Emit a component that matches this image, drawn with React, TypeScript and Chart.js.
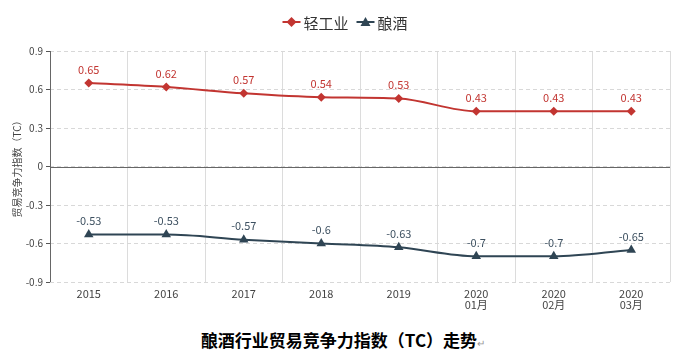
import React, { useEffect, useRef } from "react";
import { Chart, registerables } from "chart.js";

Chart.register(...registerables);

const categories: (string | string[])[] = ["2015", "2016", "2017", "2018", "2019", ["2020", "01月"], ["2020", "02月"], ["2020", "03月"]];
const lightIndustry = [0.65, 0.62, 0.57, 0.54, 0.53, 0.43, 0.43, 0.43];
const brewing = [-0.53, -0.53, -0.57, -0.6, -0.63, -0.7, -0.7, -0.65];
const seriesNames = ["轻工业", "酿酒"];
const seriesColors = ["#c23531", "#2f4554"];
const labelColors = ["#c23531", "#3d5060"];
const yTitle = "贸易竞争力指数（TC）";
const caption = "酿酒行业贸易竞争力指数（TC）走势";

const FONT = "'Noto Sans CJK SC', 'Noto Sans', sans-serif";

const valueLabels = {
  id: "valueLabels",
  afterDatasetsDraw(chart: any) {
    const ctx = chart.ctx;
    ctx.save();
    ctx.font = `11px ${FONT}`;
    ctx.textAlign = "center";
    ctx.textBaseline = "bottom";
    chart.data.datasets.forEach((ds: any, i: number) => {
      const meta = chart.getDatasetMeta(i);
      ctx.fillStyle = labelColors[i];
      meta.data.forEach((pt: any, j: number) => {
        ctx.fillText(String(ds.data[j]), pt.x, pt.y - 8);
      });
    });
    ctx.restore();
  },
};

const zeroLine = {
  id: "zeroLine",
  beforeDatasetsDraw(chart: any) {
    const y = chart.scales.y.getPixelForValue(0);
    const { left, right } = chart.chartArea;
    const ctx = chart.ctx;
    ctx.save();
    ctx.strokeStyle = "#666";
    ctx.lineWidth = 1;
    ctx.beginPath();
    ctx.moveTo(left, Math.round(y) + 0.5);
    ctx.lineTo(right, Math.round(y) + 0.5);
    ctx.stroke();
    ctx.beginPath();
    ctx.moveTo(Math.round(left) + 0.5, chart.chartArea.top);
    ctx.lineTo(Math.round(left) + 0.5, chart.chartArea.bottom);
    ctx.stroke();
    ctx.restore();
  },
};

const customLegend = {
  id: "customLegend",
  afterDraw(chart: any) {
    const ctx = chart.ctx;
    ctx.save();
    ctx.font = `15px ${FONT}`;
    ctx.textBaseline = "middle";
    const lineW = 18;
    const gap = 3;
    const itemGap = 8;
    const widths = seriesNames.map((n) => lineW + gap + ctx.measureText(n).width);
    const total = widths.reduce((a, b) => a + b, 0) + itemGap * (seriesNames.length - 1);
    let x = chart.width / 2 - total / 2 + 2;
    const y = 22;
    seriesNames.forEach((n, i) => {
      ctx.strokeStyle = seriesColors[i];
      ctx.fillStyle = seriesColors[i];
      ctx.lineWidth = 2;
      ctx.beginPath();
      ctx.moveTo(x, y);
      ctx.lineTo(x + lineW, y);
      ctx.stroke();
      const cx = x + lineW / 2;
      ctx.beginPath();
      if (i === 0) {
        ctx.moveTo(cx, y - 5);
        ctx.lineTo(cx + 5, y);
        ctx.lineTo(cx, y + 5);
        ctx.lineTo(cx - 5, y);
      } else {
        ctx.moveTo(cx, y - 5);
        ctx.lineTo(cx + 5, y + 4);
        ctx.lineTo(cx - 5, y + 4);
      }
      ctx.closePath();
      ctx.fill();
      ctx.fillStyle = "#333";
      ctx.textAlign = "left";
      ctx.fillText(n, x + lineW + gap, y + 1);
      x += widths[i] + itemGap;
    });
    ctx.restore();
  },
};

export default function App() {
  const ref = useRef<HTMLCanvasElement>(null);
  useEffect(() => {
    if (!ref.current) return;
    const chart = new Chart(ref.current, {
      type: "line",
      data: {
        labels: categories as any,
        datasets: [
          {
            label: seriesNames[0],
            data: lightIndustry,
            borderColor: seriesColors[0],
            backgroundColor: seriesColors[0],
            borderWidth: 2,
            pointStyle: "rectRot",
            pointRadius: 4.5,
            pointBorderWidth: 0,
            cubicInterpolationMode: "monotone",
          },
          {
            label: seriesNames[1],
            data: brewing,
            borderColor: seriesColors[1],
            backgroundColor: seriesColors[1],
            borderWidth: 2,
            pointStyle: "triangle",
            pointRadius: 5.5,
            pointBorderWidth: 0,
            cubicInterpolationMode: "monotone",
          },
        ],
      },
      options: {
        responsive: false,
        animation: false,
        devicePixelRatio: 1,
        layout: { padding: { top: 51, right: 16, left: 0, bottom: 0 } },
        plugins: {
          legend: { display: false },
          tooltip: { enabled: false },
          title: { display: false },
        },
        scales: {
          x: {
            type: "category",
            offset: true,
            grid: { display: true, color: "#dcdcdc", drawTicks: false, offset: true },
            border: { display: false },
            ticks: {
              color: "#444",
              font: { family: FONT, size: 11, lineHeight: 1.0 },
              padding: 6,
              maxRotation: 0,
              autoSkip: false,
            },
            afterFit(scale: any) {
              scale.height = 28;
            },
          },
          y: {
            min: -0.9,
            max: 0.9,
            grid: {
              color: "#d8d8d8",
              drawTicks: true,
              tickLength: 4,
              tickColor: "#555",
            },
            border: { display: false, dash: [4, 3] },
            ticks: {
              stepSize: 0.3,
              color: "#444",
              font: { family: FONT, size: 10 },
              padding: 3,
              callback: (v: any) => String(Math.round(Number(v) * 10) / 10),
            },
            title: {
              display: true,
              text: yTitle,
              color: "#444",
              font: { family: FONT, size: 10 },
              padding: { top: 11, bottom: 0 },
            },
            afterFit(scale: any) {
              scale.width = 50;
            },
          },
        },
      },
      plugins: [zeroLine, valueLabels, customLegend],
    });
    return () => chart.destroy();
  }, []);
  return (
    <div style={{ position: "absolute", left: 0, top: 0, width: 686, height: 362, background: "#fff" }}>
      <canvas ref={ref} width={686} height={310} style={{ display: "block" }} />
      <div
        style={{
          position: "absolute",
          left: 0,
          top: 328,
          width: 686,
          textAlign: "center",
          fontFamily: FONT,
          fontWeight: 700,
          fontSize: 17,
          color: "#000",
          lineHeight: "24px",
        }}
      >
        {caption}
        <span style={{ color: "#999", fontSize: 10, fontWeight: 400 }}>↵</span>
      </div>
    </div>
  );
}
